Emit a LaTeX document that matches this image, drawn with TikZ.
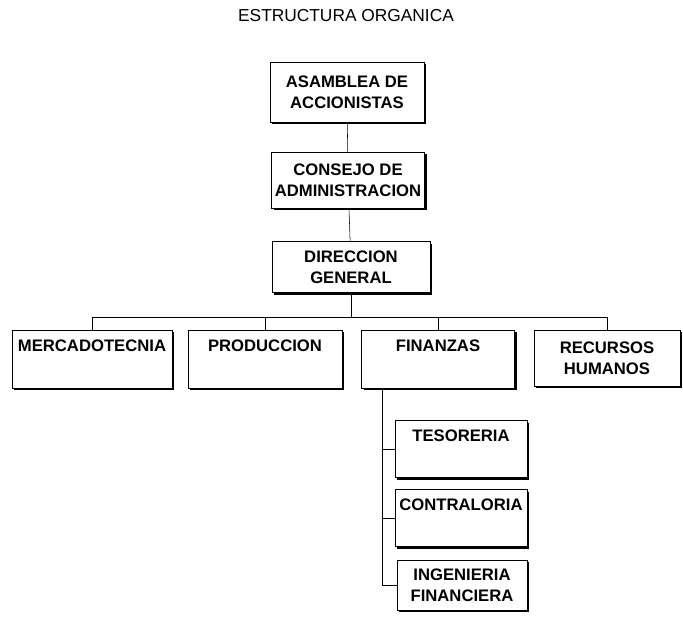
\documentclass[tikz,border=0pt]{standalone}
\usepackage{fontspec}
\setmainfont{Liberation Sans}
\usepackage{tikz}
\usetikzlibrary{shadows}
\tikzset{
    unit/.style={draw,thin,fill=white,align=center,inner sep=2pt,
        font=\fontsize{12.5}{15.5}\selectfont\bfseries,
        drop shadow={shadow xshift=1.8pt,shadow yshift=-1.8pt,fill=black,opacity=1}},
    dims/.style 2 args={minimum width=#1*0.75pt,minimum height=#2*0.75pt},
    link/.style={thin}
}

\begin{document}
\begin{tikzpicture}[x=0.75pt,y=-0.75pt]
        \useasboundingbox (0,0) rectangle (683,618);
        \node[font=\fontsize{13}{15}\selectfont] (title) at (346,16) {ESTRUCTURA ORGANICA};

        \node[unit,dims={154}{60}] (asam) at (347,92) {ASAMBLEA DE\\ACCIONISTAS};
        \node[unit,dims={153}{56}] (cons) at (348,180) {CONSEJO DE\\ADMINISTRACION};
        \node[unit,dims={158}{51}] (dir) at (351,267) {DIRECCION\\GENERAL};

        \node[unit,dims={160}{58}] (merc) at (92,359) {MERCADOTECNIA\\ \strut};
        \node[unit,dims={154}{58}] (prod) at (265,359) {PRODUCCION\\ \strut};
        \node[unit,dims={153}{58}] (fin) at (438,359) {FINANZAS\\ \strut};
        \node[unit,dims={146}{56}] (rec) at (607,358) {RECURSOS\\HUMANOS};

        \node[unit,dims={132}{57}] (tes) at (461,449) {TESORERIA\\ \strut};
        \node[unit,dims={132}{57}] (con) at (461,518) {CONTRALORIA\\ \strut};
        \node[unit,dims={130}{50}] (ing) at (462,585) {INGENIERIA\\FINANCIERA};

        % line of command
        \draw[link] (asam) -- (cons);
        \draw[link] (cons) -- (dir);
        \coordinate (bus) at (350,317);
        \draw[link] (dir.south) -- (dir.south |- bus);
        \draw[link] (merc.north) -- (merc.north |- bus) -- (rec.north |- bus) -- (rec.north);
        \draw[link] (prod.north) -- (prod.north |- bus);
        \draw[link] (fin.north) -- (fin.north |- bus);

        % finance branch
        \coordinate (spine) at (382,0);
        \draw[link] (spine |- fin.south) -- (spine |- ing.west) -- (ing.west);
        \draw[link] (spine |- tes.west) -- (tes.west);
        \draw[link] (spine |- con.west) -- (con.west);
    \end{tikzpicture}
\end{document}
